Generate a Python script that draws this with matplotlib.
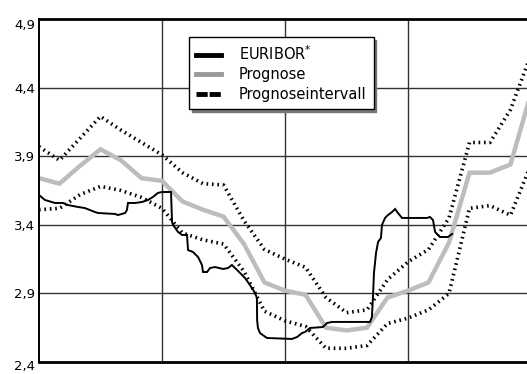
import matplotlib
matplotlib.use("Agg")
import matplotlib.pyplot as plt
import matplotlib.transforms as mtransforms
from matplotlib.lines import Line2D

# Forecast months (0 = start of window, gridlines every 6 months)
months = list(range(25))

prognose = [3.74, 3.70, 3.83, 3.95, 3.87, 3.74, 3.72, 3.57, 3.51, 3.46,
            3.26, 2.98, 2.92, 2.89, 2.65, 2.63, 2.65, 2.87, 2.92, 2.98,
            3.27, 3.78, 3.78, 3.84, 4.36]

upper_bound = [3.97, 3.87, 4.03, 4.19, 4.09, 4.00, 3.91, 3.78, 3.70, 3.69,
               3.43, 3.22, 3.15, 3.09, 2.87, 2.76, 2.78, 3.00, 3.13, 3.22,
               3.45, 4.00, 4.00, 4.24, 4.64]

lower_bound = [3.51, 3.52, 3.62, 3.68, 3.65, 3.60, 3.52, 3.34, 3.29, 3.26,
               3.06, 2.77, 2.70, 2.66, 2.50, 2.50, 2.52, 2.68, 2.72, 2.78,
               2.90, 3.52, 3.54, 3.47, 3.84]

# Observed EURIBOR (month position, rate in %)
euribor_t = [0.00, 0.29, 0.78, 1.17, 1.41, 1.90, 2.24, 2.73, 2.88, 3.71,
             3.85, 4.20, 4.29, 4.34, 4.68, 5.02, 5.32, 5.56, 5.80, 6.00,
             6.44, 6.49, 6.54, 6.78, 6.98, 7.22, 7.27, 7.51, 7.76, 7.95,
             8.00, 8.20, 8.34, 8.59, 8.98, 9.22, 9.41, 9.66, 10.05, 10.29,
             10.54, 10.63, 10.64, 10.68, 10.78, 11.12, 12.34, 12.59, 12.83, 12.98,
             13.22, 13.85, 14.05, 14.29, 16.15, 16.24, 16.29, 16.34, 16.44, 16.54,
             16.68, 16.73, 16.88, 17.02, 17.22, 17.37, 17.51, 17.71, 18.93, 19.07,
             19.22, 19.32, 19.56, 19.95, 20.15]
euribor_v = [3.617, 3.581, 3.559, 3.559, 3.544, 3.530, 3.522, 3.493, 3.486, 3.479,
             3.471, 3.486, 3.508, 3.559, 3.559, 3.566, 3.581, 3.603, 3.632, 3.639,
             3.639, 3.420, 3.399, 3.348, 3.326, 3.326, 3.216, 3.202, 3.165, 3.107,
             3.056, 3.056, 3.085, 3.092, 3.078, 3.085, 3.107, 3.071, 3.012, 2.961,
             2.903, 2.866, 2.706, 2.648, 2.611, 2.575, 2.568, 2.582, 2.611, 2.619,
             2.648, 2.655, 2.684, 2.692, 2.692, 2.728, 2.874, 3.049, 3.194, 3.275,
             3.304, 3.399, 3.450, 3.471, 3.493, 3.515, 3.486, 3.450, 3.450, 3.457,
             3.435, 3.348, 3.311, 3.311, 3.333]

y_ticks = [2.4, 2.9, 3.4, 3.9, 4.4, 4.9]
y_tick_labels = ["2,4", "2,9", "3,4", "3,9", "4,4", "4,9"]
x_grid = [6, 12, 18]

legend_labels = ["EURIBOR$^{*}$", "Prognose", "Prognoseintervall"]

plt.rcParams["font.family"] = ["DejaVu Sans"]

W, H = 527, 374
fig = plt.figure(figsize=(W / 100, H / 100), dpi=100)
ax = fig.add_axes([39 / W, (H - 362) / H, (531 - 39) / W, (362 - 19) / H])

ax.set_xlim(0, 24)
ax.set_ylim(2.4, 4.9)

# grid
for y in y_ticks[1:-1]:
    ax.axhline(y, color="#333333", lw=1.0, zorder=1)
for x in x_grid:
    ax.axvline(x, color="#333333", lw=1.0, zorder=1)

# forecast interval: thick short dashes
dot_style = (0, (0.45, 1.05))
for bound in (upper_bound, lower_bound):
    ax.plot(months, bound, color="black", lw=2.6, linestyle=dot_style,
            dash_capstyle="butt", zorder=3)
ax.plot(months, prognose, color="#bdbdbd", lw=3.2, zorder=2,
        solid_joinstyle="miter")
ax.plot(euribor_t, euribor_v, color="black", lw=1.4, zorder=4,
        solid_joinstyle="miter")

ax.set_yticks(y_ticks)
ax.set_yticklabels(y_tick_labels, fontsize=9.5)
ax.set_xticks([])
ax.tick_params(axis="y", length=0, pad=3)

tick_labels = ax.get_yticklabels()
shift_down = mtransforms.ScaledTranslation(0, -2.5 / 72, fig.dpi_scale_trans)
tick_labels[0].set_transform(tick_labels[0].get_transform() + shift_down)
tick_labels[-1].set_verticalalignment("top")

for side in ["top", "bottom"]:
    ax.spines[side].set_linewidth(2.0)
ax.spines["left"].set_linewidth(1.4)
ax.spines["right"].set_visible(False)
for sp in ax.spines.values():
    sp.set_color("black")
    sp.set_zorder(5)

handles = [
    Line2D([], [], color="black", lw=3.5),
    Line2D([], [], color="#999999", lw=3.5),
    Line2D([], [], color="black", lw=3.5, linestyle=(0, (2.3, 0.4))),
]
leg = ax.legend(handles, legend_labels, loc="upper left",
                bbox_to_anchor=(0.305, 0.9475), borderaxespad=0,
                fontsize=10.5, frameon=True, fancybox=False,
                shadow={"color": "#777777", "alpha": 1.0},
                edgecolor="black", framealpha=1, handlelength=1.7,
                handletextpad=1.2, labelspacing=0.3, borderpad=0.5)
leg.get_frame().set_linewidth(1.0)
leg.set_zorder(10)

fig.savefig("out.png", dpi=100)
